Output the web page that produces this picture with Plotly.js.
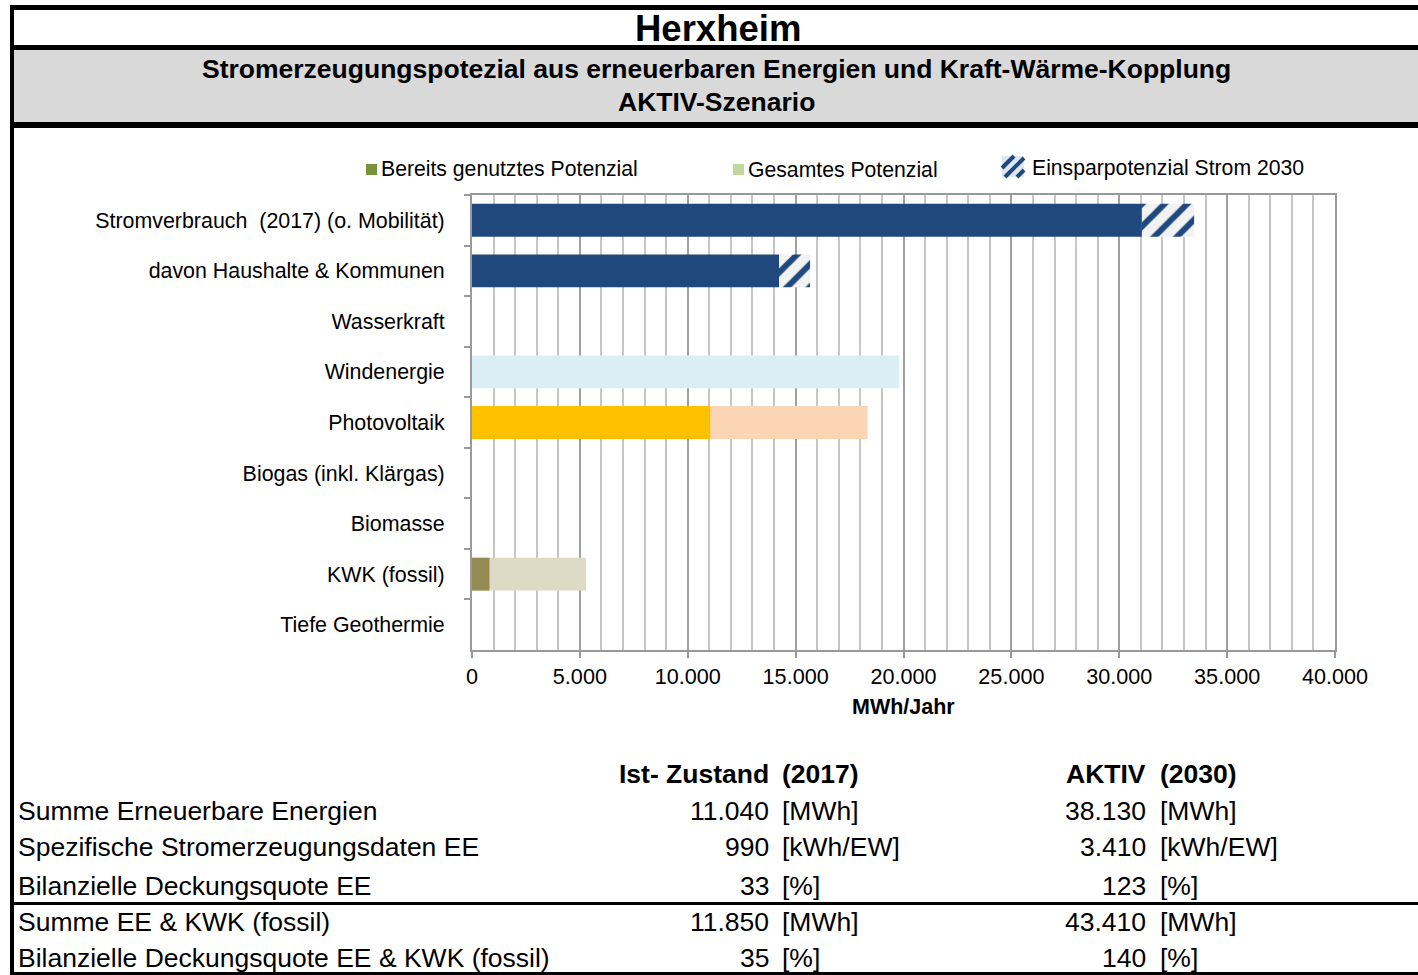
<!DOCTYPE html>
<html>
<head>
<meta charset="utf-8">
<script src="https://cdn.plot.ly/plotly-3.0.1.min.js"></script>
<style>
  html, body { margin: 0; padding: 0; background: #fff; }
  #chart { width: 1418px; height: 975px; }
</style>
</head>
<body>
<div id="chart"></div>
<script>
// ---------------- DATA ----------------
const categories = [
  "Stromverbrauch\u00a0 (2017) (o. Mobilität)",
  "davon Haushalte & Kommunen",
  "Wasserkraft",
  "Windenergie",
  "Photovoltaik",
  "Biogas (inkl. Klärgas)",
  "Biomasse",
  "KWK (fossil)",
  "Tiefe Geothermie"
];
// consumption 2030 (solid) and saving potential until 2030 (hatched), MWh/Jahr
const consumption2030 = [31050, 14230, null, null, null, null, null, null, null];
const savings2030     = [2420, 1440, null, null, null, null, null, null, null];
// potentials, MWh/Jahr
const totalPotential    = [null, null, 0, 19790, 18340, 0, 0, 5280, 0];
const existingPotential = [null, null, 0, 0, 11040, 0, 0, 810, 0];

const legendNames = ["Bereits genutztes Potenzial", "Gesamtes Potenzial", "Einsparpotenzial Strom 2030"];
const xTickValues = [0, 5000, 10000, 15000, 20000, 25000, 30000, 35000, 40000];

const tableRows = [
  "Summe Erneuerbare Energien",
  "Spezifische Stromerzeugungsdaten EE",
  "Bilanzielle Deckungsquote EE",
  "Summe EE & KWK (fossil)",
  "Bilanzielle Deckungsquote EE & KWK (fossil)"
];
const istValues   = [11040, 990, 33, 11850, 35];
const aktivValues = [38130, 3410, 123, 43410, 140];
const tableUnits  = ["[MWh]", "[kWh/EW]", "[%]", "[MWh]", "[%]"];
const colHeaders  = [["Ist- Zustand", "(2017)"], ["AKTIV", "(2030)"]];

// ---------------- STYLE ----------------
const FONT = "Liberation Sans, Arial, Helvetica, sans-serif";
const W = 1418, H = 975;
const px = x => x / W;
const py = y => 1 - y / H;
const fmt = v => String(v).replace(/\B(?=(\d{3})+(?!\d))/g, ".");

const darkBlue = "#1F497D";
const totalColors    = [null, null, "#DAEEF3", "#DAEEF3", "#FCD5B5", "#DDD9C4", "#DDD9C4", "#DDD9C4", "#DDD9C4"];
const existingColors = [null, null, "#4F81BD", "#4F81BD", "#FFC000", "#948A54", "#948A54", "#948A54", "#948A54"];

const traces = [
  {
    type: "bar", orientation: "h", y: categories, x: totalPotential,
    name: legendNames[1], showlegend: false, hoverinfo: "x+y",
    marker: { color: totalColors, line: { width: 0 } }
  },
  {
    type: "bar", orientation: "h", y: categories, x: existingPotential,
    name: legendNames[0], showlegend: false, hoverinfo: "x+y",
    marker: { color: existingColors, line: { width: 0 } }
  },
  {
    type: "bar", orientation: "h", y: categories, x: consumption2030,
    name: "Stromverbrauch 2030", showlegend: false, hoverinfo: "x+y",
    marker: { color: darkBlue, line: { width: 0 } }
  },
  {
    type: "bar", orientation: "h", y: categories, x: savings2030, base: consumption2030,
    name: legendNames[2], showlegend: false, hoverinfo: "x+y",
    marker: {
      color: "#F2F2F2", line: { width: 0 },
      pattern: { shape: "/", bgcolor: "#F2F2F2", fgcolor: darkBlue, size: 16, solidity: 0.38 }
    }
  }
];

// ---------------- SHAPES ----------------
const shapes = [];
function rectPx(x0, y0, x1, y1, fill, layer) {
  shapes.push({ type: "rect", xref: "paper", yref: "paper",
    x0: px(x0), x1: px(x1), y0: py(y1), y1: py(y0),
    fillcolor: fill, line: { width: 0 }, layer: layer || "above" });
}
function linePx(x0, y0, x1, y1, color, width) {
  shapes.push({ type: "line", xref: "paper", yref: "paper",
    x0: px(x0), x1: px(x1), y0: py(y0), y1: py(y1),
    line: { color: color, width: width } });
}
// header frame
rectPx(10, 50, W, 122, "#D9D9D9", "below");
rectPx(10, 5, W, 10, "#000");
rectPx(10, 45, W, 50, "#000");
rectPx(10, 122, W, 128, "#000");
rectPx(10, 5, 14, H, "#000");
// table lines
rectPx(12, 902, W, 905, "#000");
rectPx(12, 972, W, 975, "#000");

// legend icons
rectPx(366, 164, 377, 175, "#77933C");
rectPx(733, 164, 744, 175, "#C3D69B");
// hatched legend icon
const hx = 1002, hy = 156, hw = 22, hh = 21;
rectPx(hx, hy, hx + hw, hy + hh, "#DCE6F2");
[12, 24, 36].forEach(c => {
  const pts = [];
  const cand = [[0, c], [c, 0], [hw, c - hw], [c - hh, hh]];
  cand.forEach(p => { if (p[0] >= 0 && p[0] <= hw && p[1] >= 0 && p[1] <= hh) pts.push(p); });
  if (pts.length >= 2) {
    pts.sort((a, b) => a[0] - b[0]);
    const a = pts[0], b = pts[pts.length - 1];
    linePx(hx + a[0], hy + a[1], hx + b[0], hy + b[1], darkBlue, 4);
  }
});

// ---------------- ANNOTATIONS ----------------
const annotations = [];
function textPx(x, y, text, opts) {
  opts = opts || {};
  annotations.push({
    xref: "paper", yref: "paper", x: px(x), y: py(y), text: text,
    showarrow: false, xanchor: opts.xanchor || "left", yanchor: "middle",
    borderpad: 0,
    font: { family: FONT, size: opts.size || 20, color: "#000" }
  });
}
textPx(718, 28, "<b>Herxheim</b>", { xanchor: "center", size: 36.5 });
textPx(716, 69, "<b>Stromerzeugungspotezial aus erneuerbaren Energien und Kraft-Wärme-Kopplung</b>", { xanchor: "center", size: 26.5 });
textPx(716, 102, "<b>AKTIV-Szenario</b>", { xanchor: "center", size: 26.5 });

textPx(380, 169, legendNames[0], { size: 21.2 });
textPx(747, 169, legendNames[1], { size: 21.2 });
textPx(1031, 168, legendNames[2], { size: 21.2 });

textPx(903, 707, "<b>MWh/Jahr</b>", { xanchor: "center", size: 21.5 });

// table
const valRight = [770, 1147], unitLeft = [781, 1159];
textPx(valRight[0], 774, "<b>" + colHeaders[0][0] + "</b>", { xanchor: "right", size: 26.5 });
textPx(unitLeft[0], 774, "<b>" + colHeaders[0][1] + "</b>", { size: 26.5 });
textPx(valRight[1], 774, "<b>" + colHeaders[1][0] + "</b>", { xanchor: "right", size: 26.5 });
textPx(unitLeft[1], 774, "<b>" + colHeaders[1][1] + "</b>", { size: 26.5 });
const rowY = [811, 847, 886, 922, 958];
tableRows.forEach((r, i) => {
  textPx(17, rowY[i], r, { size: 26.5 });
  textPx(valRight[0], rowY[i], fmt(istValues[i]), { xanchor: "right", size: 26.5 });
  textPx(unitLeft[0], rowY[i], tableUnits[i], { size: 26.5 });
  textPx(valRight[1], rowY[i], fmt(aktivValues[i]), { xanchor: "right", size: 26.5 });
  textPx(unitLeft[1], rowY[i], tableUnits[i], { size: 26.5 });
});

// ---------------- LAYOUT ----------------
const layout = {
  width: W, height: H,
  margin: { l: 0, r: 0, t: 0, b: 0, pad: 0 },
  paper_bgcolor: "#fff", plot_bgcolor: "#fff",
  font: { family: FONT, size: 20, color: "#000" },
  separators: ",.",
  barmode: "overlay",
  bargap: 0.35,
  showlegend: false,
  xaxis: {
    domain: [px(472), px(1335)],
    range: [0, 40000],
    tickvals: xTickValues,
    tickformat: ",d",
    showgrid: true, gridcolor: "#A0A0A0", gridwidth: 2,
    minor: { dtick: 1000, showgrid: true, gridcolor: "#C6C6C6", gridwidth: 2, ticks: "" },
    showline: true, linecolor: "#999999", linewidth: 2, mirror: true,
    ticks: "outside", ticklen: 6, tickcolor: "#999999", tickwidth: 2,
    tickfont: { family: FONT, size: 21.6, color: "#000" },
    zeroline: false, fixedrange: true
  },
  yaxis: {
    domain: [py(650), py(195)],
    type: "category",
    autorange: "reversed",
    showgrid: false,
    showline: true, linecolor: "#999999", linewidth: 2, mirror: true,
    ticks: "outside", ticklen: 6, tickcolor: "#999999", tickwidth: 2,
    tickson: "boundaries",
    ticklabelstandoff: 21,
    tickfont: { family: FONT, size: 21.4, color: "#000" },
    zeroline: false, fixedrange: true
  },
  shapes: shapes,
  annotations: annotations
};

Plotly.newPlot("chart", traces, layout, { displayModeBar: false, staticPlot: true });
</script>
</body>
</html>
